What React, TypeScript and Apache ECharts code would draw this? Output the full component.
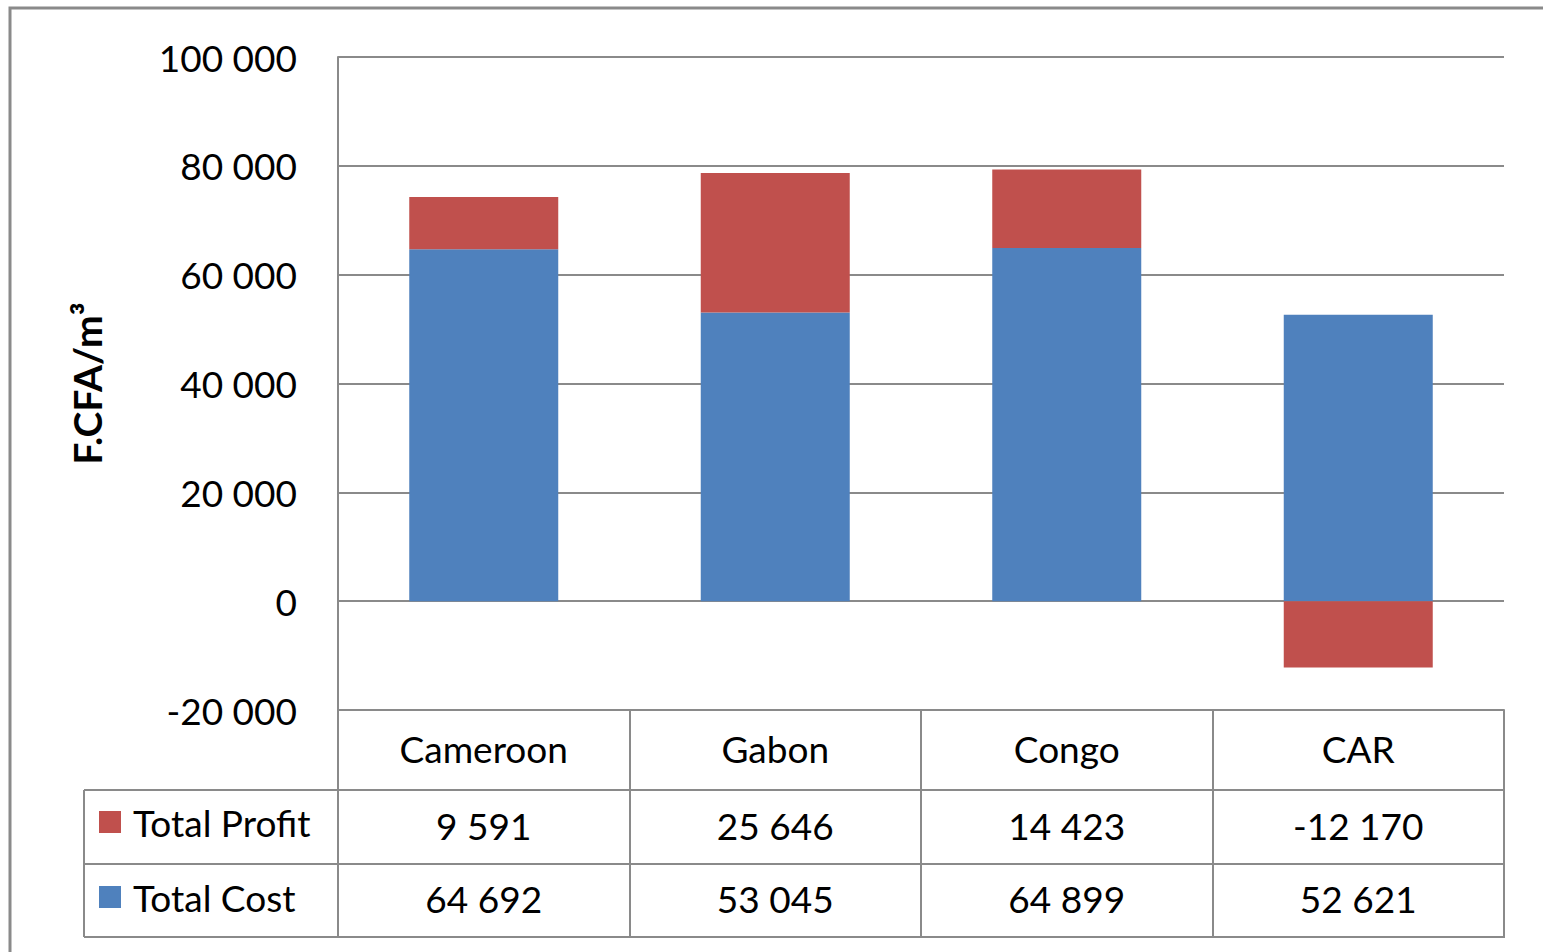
import React, { useEffect, useRef } from "react";
import * as echarts from "echarts";

const categories = ["Cameroon", "Gabon", "Congo", "CAR"];
const totalProfit = [9591, 25646, 14423, -12170];
const totalCost = [64692, 53045, 64899, 52621];
const yTicks = { min: -20000, max: 100000, interval: 20000 };

const FONT = "Lato";
const GRID_COLOR = "#8a8a8a";

function fmt(v: number): string {
  const s = Math.abs(v)
    .toString()
    .replace(/\B(?=(\d{3})+(?!\d))/g, " ");
  return (v < 0 ? "-" : "") + s;
}

export default function App() {
  const ref = useRef<HTMLDivElement>(null);
  useEffect(() => {
    if (!ref.current) return;
    const chart = echarts.init(ref.current, undefined, { renderer: "svg" });
    const L = 338, R = 1504, T = 57, B = 710;
    const rows = [790, 864, 937];
    const tableLeft = 84;
    const textStyle = { fontFamily: FONT, fontSize: 37, color: "#000" };
    const option: any = {
      animation: false,
      backgroundColor: "#fff",
      grid: { left: L, right: 1543 - R, top: T, bottom: 952 - B, containLabel: false },
      legend: {
        orient: "vertical",
        left: 99,
        top: 802,
        padding: 0,
        itemWidth: 22,
        itemHeight: 22,
        itemGap: 35,
        icon: "rect",
        data: ["Total Profit", "Total Cost"],
        textStyle: { ...textStyle, lineHeight: 40, padding: [0, 0, 0, 7] },
        selectedMode: false,
      },
      xAxis: [
        {
          type: "category",
          data: categories,
          position: "bottom",
          axisLine: { show: true, onZero: false, lineStyle: { color: GRID_COLOR, width: 2 } },
          axisTick: {
            show: true,
            interval: 0,
            alignWithLabel: false,
            length: rows[2] - B,
            lineStyle: { color: GRID_COLOR, width: 2 },
          },
          axisLabel: { ...textStyle, margin: 38, verticalAlign: "middle", interval: 0 },
        },
        {
          type: "category",
          data: categories,
          position: "bottom",
          axisLine: { show: false, onZero: false },
          axisTick: { show: false },
          axisLabel: {
            ...textStyle,
            margin: 115,
            verticalAlign: "middle",
            interval: 0,
            formatter: (_v: string, i: number) => fmt(totalProfit[i]),
          },
        },
        {
          type: "category",
          data: categories,
          position: "bottom",
          axisLine: { show: false, onZero: false },
          axisTick: { show: false },
          axisLabel: {
            ...textStyle,
            margin: 188,
            verticalAlign: "middle",
            interval: 0,
            formatter: (_v: string, i: number) => fmt(totalCost[i]),
          },
        },
      ],
      yAxis: {
        type: "value",
        min: yTicks.min,
        max: yTicks.max,
        interval: yTicks.interval,
        name: "F.CFA/m³",
        nameLocation: "middle",
        nameRotate: 90,
        nameGap: 232,
        nameTextStyle: { fontFamily: FONT, fontSize: 39, fontWeight: "bold", color: "#000" },
        axisLine: { show: true, lineStyle: { color: GRID_COLOR, width: 2 } },
        axisTick: { show: false },
        axisLabel: {
          ...textStyle,
          margin: 41,
          padding: [0, 0, 6, 0],
          formatter: (v: number) => fmt(v),
        },
        splitLine: { show: true, lineStyle: { color: GRID_COLOR, width: 2 } },
      },
      series: [
        {
          name: "Total Cost",
          type: "bar",
          stack: "total",
          barWidth: 149,
          data: totalCost,
          itemStyle: { color: "#4F81BD" },
        },
        {
          name: "Total Profit",
          type: "bar",
          stack: "total",
          barWidth: 149,
          data: totalProfit,
          itemStyle: { color: "#C0504D" },
        },
      ],
      graphic: [
        ...rows.map((y) => ({
          type: "line",
          shape: { x1: tableLeft, y1: y, x2: R + 1, y2: y },
          style: { stroke: GRID_COLOR, lineWidth: 2 },
          z: 10,
        })),
        {
          type: "line",
          shape: { x1: tableLeft, y1: rows[0], x2: tableLeft, y2: rows[2] },
          style: { stroke: GRID_COLOR, lineWidth: 2 },
          z: 10,
        },
        {
          type: "rect",
          shape: { x: 10, y: 8, width: 1600, height: 1000 },
          style: { fill: "none", stroke: "#8a8a8a", lineWidth: 3 },
          z: 10,
        },
      ],
    };
    chart.setOption(option);
    return () => chart.dispose();
  }, []);
  return (
    <div
      ref={ref}
      style={{ position: "absolute", left: 0, top: 0, width: 1543, height: 952 }}
    />
  );
}
